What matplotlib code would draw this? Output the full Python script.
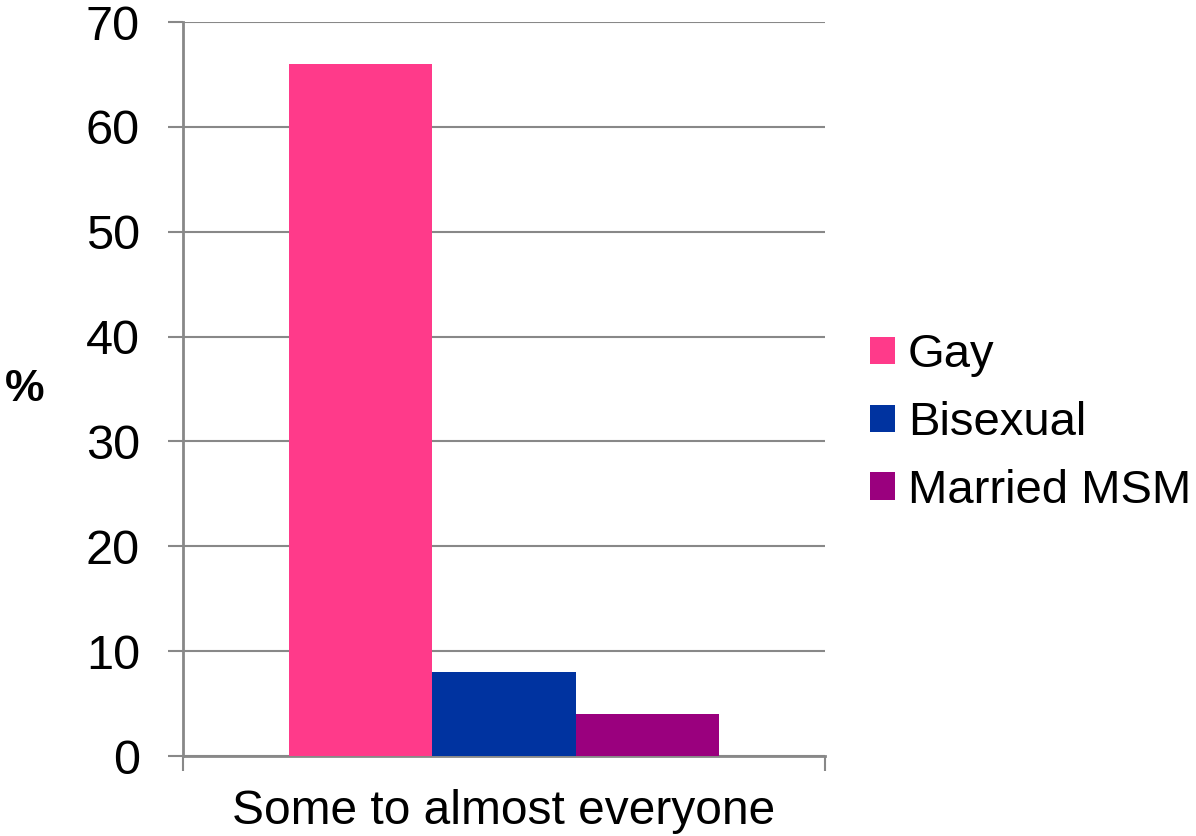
import numpy as np
import matplotlib.pyplot as plt
import matplotlib as mpl

plt.rcParams['font.family'] = ['Liberation Sans', 'DejaVu Sans']

# datos
categoria = 'Some to almost everyone'
grupos = ['Gay', 'Bisexual', 'Married MSM']
valores = [66, 8, 4]
colores = ['#FF3A8A', '#0033A0', '#9A007E']

GRIS = '#888888'

fig = plt.figure(figsize=(11.96, 8.36), dpi=100)
ax = fig.add_axes([183 / 1196, 80 / 836, 642 / 1196, 734 / 836])

ancho = 0.2236
offsets = (np.arange(len(grupos)) - 1) * ancho
for g, v, c, dx in zip(grupos, valores, colores, offsets):
    ax.bar(dx, v, width=ancho, color=c, label=g, zorder=3)

ax.set_xlim(-0.5, 0.5)
ax.set_ylim(0, 70)
ax.set_yticks(np.arange(0, 71, 10))
ax.yaxis.grid(True, color=GRIS, lw=1.5, zorder=0)
ax.set_axisbelow(True)

ax.set_xticks([0])
ax.set_xticklabels([categoria])
ax.set_xticks([-0.5, 0.5], minor=True)
ax.tick_params(axis='x', which='major', length=0, pad=24, labelsize=34.5)
ax.tick_params(axis='x', which='minor', length=11, width=1.5, color=GRIS)
ax.tick_params(axis='y', length=11, width=1.5, color=GRIS, pad=20,
               labelsize=35)

for s in ['top', 'right']:
    ax.spines[s].set_visible(False)
ax.spines['left'].set_color(GRIS)
ax.spines['left'].set_linewidth(2)
ax.spines['bottom'].set_color(GRIS)
ax.spines['bottom'].set_linewidth(2)

ax.set_ylabel('%', rotation=0, fontsize=32, fontweight='bold',
              labelpad=0, ha='center', va='center')
ax.yaxis.set_label_coords(-0.246, 0.5)

leg = fig.legend(loc='center left', bbox_to_anchor=(0.712, 0.494),
                 frameon=False, fontsize=34, handlelength=0.52,
                 handleheight=0.52, handletextpad=0.27, labelspacing=0.5,
                 borderaxespad=0)

fig.savefig('out.png', dpi=100)
